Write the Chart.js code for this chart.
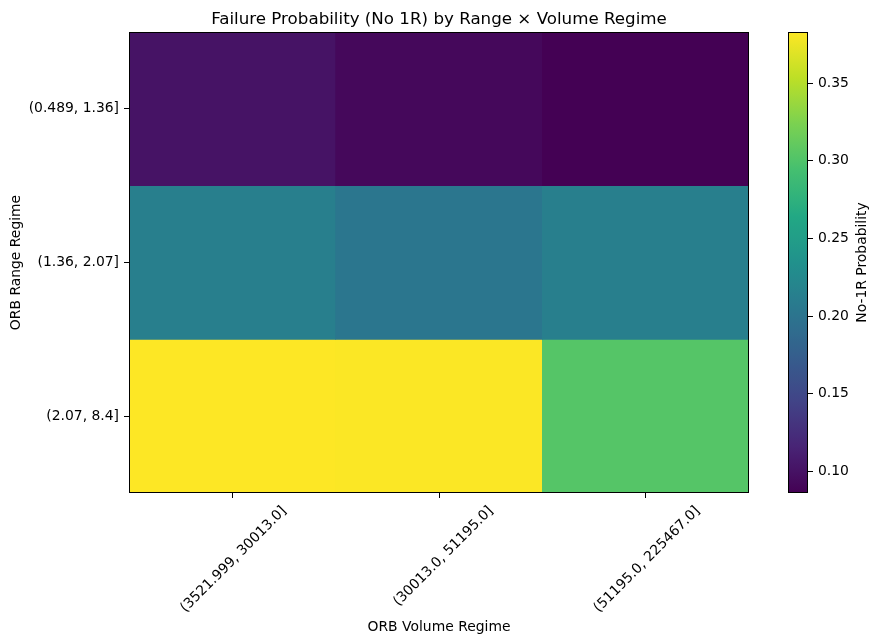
<!DOCTYPE html>
<html>
<head>
<meta charset="utf-8">
<script src="https://cdn.jsdelivr.net/npm/chart.js@4"></script>
<style>
  html, body { margin: 0; padding: 0; background: #fff; }
  #wrap { position: relative; width: 881px; height: 644px; }
  #main { position: absolute; left: 0; top: 0; }
  #cbar { position: absolute; left: 770px; top: 0; }
</style>
</head>
<body>
<div id="wrap">
  <canvas id="main" width="881" height="644"></canvas>
  <canvas id="cbar" width="111" height="644"></canvas>
</div>
<script>
// 数据
const rangeRegimes = ['(0.489, 1.36]', '(1.36, 2.07]', '(2.07, 8.4]'];
const volumeRegimes = ['(3521.999, 30013.0]', '(30013.0, 51195.0]', '(51195.0, 225467.0]'];
const probRow1 = [0.101, 0.092, 0.086];
const probRow2 = [0.213, 0.203, 0.213];
const probRow3 = [0.383, 0.382, 0.303];
const probRows = [probRow1, probRow2, probRow3];
const colorbarTicks = [0.10, 0.15, 0.20, 0.25, 0.30, 0.35];

const FONT = 'DejaVu Sans';
Chart.defaults.font.family = FONT;
Chart.defaults.color = '#000';
Chart.defaults.animation = false;
Chart.defaults.responsive = false;
Chart.defaults.devicePixelRatio = 1;

const allVals = probRows.flat();
const vmin = Math.min(...allVals);
const vmax = Math.max(...allVals);

// viridis 色表
const viridisStops = ['#440154', '#482475', '#414487', '#355f8d', '#2a788e', '#21918c',
  '#22a884', '#44bf70', '#7ad151', '#bddf26', '#fde725'];

function hexToRgb(h) {
  return [parseInt(h.slice(1, 3), 16), parseInt(h.slice(3, 5), 16), parseInt(h.slice(5, 7), 16)];
}

function viridis(t) {
  t = Math.max(0, Math.min(1, t));
  const pos = t * (viridisStops.length - 1);
  const i = Math.min(Math.floor(pos), viridisStops.length - 2);
  const f = pos - i;
  const a = hexToRgb(viridisStops[i]);
  const b = hexToRgb(viridisStops[i + 1]);
  const c = a.map((v, k) => Math.round(v + (b[k] - v) * f));
  return `rgb(${c[0]}, ${c[1]}, ${c[2]})`;
}

// 外框
const frame = {
  id: 'frame',
  afterDatasetsDraw(chart) {
    const { ctx, chartArea: a } = chart;
    ctx.save();
    ctx.strokeStyle = '#000';
    ctx.lineWidth = 1;
    ctx.strokeRect(Math.round(a.left) + 0.5, Math.round(a.top) + 0.5,
      Math.round(a.right - a.left) - 1, Math.round(a.bottom - a.top) - 1);
    ctx.restore();
  }
};

// 标题
const titlePlugin = {
  id: 'plotTitle',
  afterDraw(chart) {
    const { ctx, chartArea: a } = chart;
    ctx.save();
    ctx.font = `16.7px "${FONT}"`;
    ctx.fillStyle = '#000';
    ctx.textAlign = 'center';
    ctx.textBaseline = 'alphabetic';
    ctx.fillText('Failure Probability (No 1R) by Range \u00d7 Volume Regime', (a.left + a.right) / 2, 24);
    ctx.restore();
  }
};

new Chart(document.getElementById('main'), {
  type: 'bar',
  data: {
    labels: volumeRegimes,
    datasets: probRows.map((row, ri) => ({
      label: rangeRegimes[ri],
      data: row.map(() => [ri, ri + 1]),
      backgroundColor: row.map(v => viridis((v - vmin) / (vmax - vmin))),
      borderWidth: 0,
      barPercentage: 1,
      categoryPercentage: 1,
      grouped: false
    }))
  },
  options: {
    layout: { padding: { left: 0, right: 132, top: 32, bottom: 0 } },
    plugins: { legend: { display: false }, tooltip: { enabled: false } },
    scales: {
      x: {
        grid: { display: true, drawOnChartArea: false, offset: false, color: '#000', tickLength: 5 },
        border: { display: false },
        ticks: {
          font: { size: 13.9 }, color: '#000',
          minRotation: 45, maxRotation: 45, autoSkip: false,
          labelOffset: 52, padding: 5
        },
        title: { display: true, text: 'ORB Volume Regime', font: { size: 13.9 }, color: '#000', padding: { top: 0, bottom: 8 } },
        afterFit(scale) { scale.height = 151; }
      },
      y: {
        type: 'linear',
        min: 0,
        max: rangeRegimes.length,
        reverse: true,
        grid: { display: true, drawOnChartArea: false, color: '#000', tickLength: 5 },
        border: { display: false },
        afterBuildTicks(scale) {
          scale.ticks = rangeRegimes.map((_, i) => ({ value: i + 0.5 }));
        },
        ticks: {
          font: { size: 13.9 }, color: '#000', padding: 5,
          callback: v => rangeRegimes[Math.floor(v)]
        },
        title: { display: true, text: 'ORB Range Regime', font: { size: 13.9 }, color: '#000', padding: { top: 8, bottom: 0 } },
        afterFit(scale) { scale.width = 129; }
      }
    }
  },
  plugins: [frame, titlePlugin]
});

// 色条
const cbTitle = {
  id: 'cbTitle',
  afterDraw(chart) {
    const { ctx } = chart;
    ctx.save();
    ctx.font = `13.9px "${FONT}"`;
    ctx.fillStyle = '#000';
    ctx.translate(92, (chart.chartArea.top + chart.chartArea.bottom) / 2);
    ctx.rotate(-Math.PI / 2);
    ctx.textAlign = 'center';
    ctx.textBaseline = 'middle';
    ctx.fillText('No-1R Probability', 0, 0);
    ctx.restore();
  }
};

new Chart(document.getElementById('cbar'), {
  type: 'bar',
  data: {
    labels: ['cb'],
    datasets: [{
      data: [[vmin, vmax]],
      backgroundColor(context) {
        const { ctx, chartArea } = context.chart;
        if (!chartArea) return '#888';
        const g = ctx.createLinearGradient(0, chartArea.bottom, 0, chartArea.top);
        for (let i = 0; i <= 40; i++) g.addColorStop(i / 40, viridis(i / 40));
        return g;
      },
      borderWidth: 0,
      barPercentage: 1,
      categoryPercentage: 1
    }]
  },
  options: {
    layout: { padding: { left: 18, right: 0, top: 32, bottom: 151 } },
    plugins: { legend: { display: false }, tooltip: { enabled: false } },
    scales: {
      x: { display: false },
      y: {
        position: 'right',
        min: vmin,
        max: vmax,
        grid: { display: true, drawOnChartArea: false, color: '#000', tickLength: 5 },
        border: { display: false },
        afterBuildTicks(scale) {
          scale.ticks = colorbarTicks.map(v => ({ value: v }));
        },
        ticks: {
          font: { size: 13.9 }, color: '#000', padding: 5,
          callback: v => v.toFixed(2)
        },
        afterFit(scale) { scale.width = 73; }
      }
    }
  },
  plugins: [frame, cbTitle]
});
</script>
</body>
</html>
